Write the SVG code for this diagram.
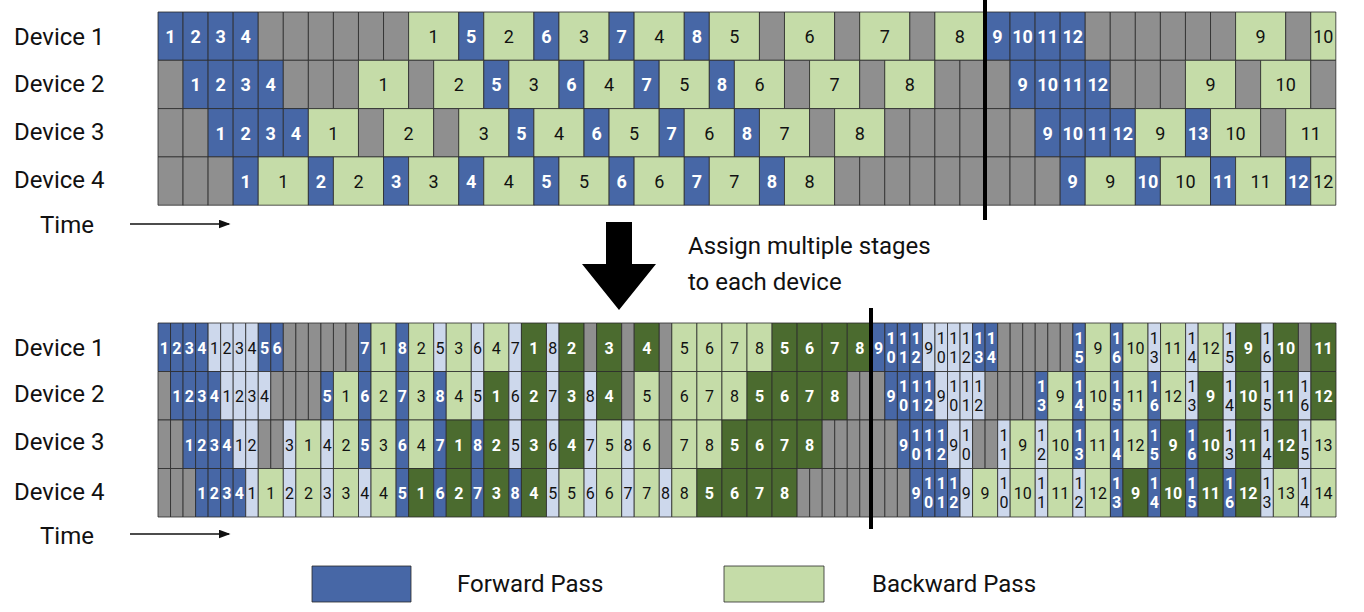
<svg xmlns="http://www.w3.org/2000/svg" width="1364" height="612" viewBox="0 0 1364 612">
<style>
text{font-family:Roboto,"Liberation Sans",sans-serif;text-anchor:middle}
.c rect{stroke:#2a2a2a;stroke-width:0.8;vector-effect:non-scaling-stroke}
.f{fill:#4767a6}.l{fill:#cdd8ec}.b{fill:#c5dca8}.d{fill:#4b6b2f}.g{fill:#8f8f8f}
.top rect{height:48.3px}.bot rect{height:48.5px}
.top text{font-size:18px}.bot text{font-size:16px}
.w{fill:#fff;font-weight:bold}.k{fill:#111}
.lab{font-size:24px;text-anchor:start;fill:#111}
</style>
<defs><marker id="ah" markerWidth="8" markerHeight="6" refX="7" refY="3" orient="auto"><path d="M0,0L8,3L0,6z" fill="#111"/></marker></defs>
<g id="labels">
<text class="lab" x="14" y="45">Device 1</text><text class="lab" x="14" y="92">Device 2</text><text class="lab" x="14" y="140">Device 3</text><text class="lab" x="14" y="188">Device 4</text>
<text class="lab" x="40" y="233">Time</text>
<text class="lab" x="14" y="356">Device 1</text><text class="lab" x="14" y="402">Device 2</text><text class="lab" x="14" y="450">Device 3</text><text class="lab" x="14" y="500">Device 4</text>
<text class="lab" x="40" y="544">Time</text>
<text class="lab" x="688" y="254">Assign multiple stages</text><text class="lab" x="688" y="290">to each device</text>
<text class="lab" x="457" y="592">Forward Pass</text><text class="lab" x="872" y="592">Backward Pass</text>
</g>
<g id="connectors" stroke="#111" fill="none">
<line x1="130" y1="224" x2="229" y2="224" stroke-width="1.5" marker-end="url(#ah)"/>
<line x1="130" y1="534" x2="229" y2="534" stroke-width="1.5" marker-end="url(#ah)"/>
<path d="M606,222H632V264H656L619,310L582,264H606Z" fill="#000" stroke="none"/>
</g>
<g id="legend" class="c">
<rect class="f" x="312" y="566" width="99" height="36"/><rect class="b" x="724" y="566" width="100" height="36"/>
</g>
<g id="top" class="top c" transform="translate(158 0) scale(25.06 1)">
<g transform="translate(0 12)">
<rect class="f" x="0" width="1"/><rect class="f" x="1" width="1"/><rect class="f" x="2" width="1"/><rect class="f" x="3" width="1"/>
<rect class="g" x="4" width="1"/><rect class="g" x="5" width="1"/><rect class="g" x="6" width="1"/><rect class="g" x="7" width="1"/><rect class="g" x="8" width="1"/><rect class="g" x="9" width="1"/>
<rect class="b" x="10" width="2"/><rect class="f" x="12" width="1"/><rect class="b" x="13" width="2"/><rect class="f" x="15" width="1"/><rect class="b" x="16" width="2"/><rect class="f" x="18" width="1"/><rect class="b" x="19" width="2"/><rect class="f" x="21" width="1"/><rect class="b" x="22" width="2"/><rect class="g" x="24" width="1"/><rect class="b" x="25" width="2"/><rect class="g" x="27" width="1"/><rect class="b" x="28" width="2"/><rect class="g" x="30" width="1"/><rect class="b" x="31" width="2"/>
<rect class="f" x="33" width="1"/><rect class="f" x="34" width="1"/><rect class="f" x="35" width="1"/><rect class="f" x="36" width="1"/>
<rect class="g" x="37" width="1"/><rect class="g" x="38" width="1"/><rect class="g" x="39" width="1"/><rect class="g" x="40" width="1"/><rect class="g" x="41" width="1"/><rect class="g" x="42" width="1"/>
<rect class="b" x="43" width="2"/><rect class="g" x="45" width="1"/><rect class="b" x="46" width="1"/>
<text class="w" transform="translate(.5 31)scale(.0399 1)">1</text><text class="w" transform="translate(1.5 31)scale(.0399 1)">2</text><text class="w" transform="translate(2.5 31)scale(.0399 1)">3</text><text class="w" transform="translate(3.5 31)scale(.0399 1)">4</text>
<text class="k" transform="translate(11 31)scale(.0399 1)">1</text><text class="w" transform="translate(12.5 31)scale(.0399 1)">5</text><text class="k" transform="translate(14 31)scale(.0399 1)">2</text><text class="w" transform="translate(15.5 31)scale(.0399 1)">6</text><text class="k" transform="translate(17 31)scale(.0399 1)">3</text><text class="w" transform="translate(18.5 31)scale(.0399 1)">7</text><text class="k" transform="translate(20 31)scale(.0399 1)">4</text><text class="w" transform="translate(21.5 31)scale(.0399 1)">8</text><text class="k" transform="translate(23 31)scale(.0399 1)">5</text><text class="k" transform="translate(26 31)scale(.0399 1)">6</text><text class="k" transform="translate(29 31)scale(.0399 1)">7</text><text class="k" transform="translate(32 31)scale(.0399 1)">8</text>
<text class="w" transform="translate(33.5 31)scale(.0399 1)">9</text><text class="w" transform="translate(34.5 31)scale(.0399 1)">10</text><text class="w" transform="translate(35.5 31)scale(.0399 1)">11</text><text class="w" transform="translate(36.5 31)scale(.0399 1)">12</text>
<text class="k" transform="translate(44 31)scale(.0399 1)">9</text><text class="k" transform="translate(46.5 31)scale(.0399 1)">10</text>
</g>
<g transform="translate(0 60.3)">
<rect class="g" x="0" width="1"/><rect class="f" x="1" width="1"/><rect class="f" x="2" width="1"/><rect class="f" x="3" width="1"/><rect class="f" x="4" width="1"/>
<rect class="g" x="5" width="1"/><rect class="g" x="6" width="1"/><rect class="g" x="7" width="1"/>
<rect class="b" x="8" width="2"/><rect class="g" x="10" width="1"/><rect class="b" x="11" width="2"/><rect class="f" x="13" width="1"/><rect class="b" x="14" width="2"/><rect class="f" x="16" width="1"/><rect class="b" x="17" width="2"/><rect class="f" x="19" width="1"/><rect class="b" x="20" width="2"/><rect class="f" x="22" width="1"/><rect class="b" x="23" width="2"/><rect class="g" x="25" width="1"/><rect class="b" x="26" width="2"/><rect class="g" x="28" width="1"/><rect class="b" x="29" width="2"/>
<rect class="g" x="31" width="1"/><rect class="g" x="32" width="1"/><rect class="g" x="33" width="1"/>
<rect class="f" x="34" width="1"/><rect class="f" x="35" width="1"/><rect class="f" x="36" width="1"/><rect class="f" x="37" width="1"/>
<rect class="g" x="38" width="1"/><rect class="g" x="39" width="1"/><rect class="g" x="40" width="1"/>
<rect class="b" x="41" width="2"/><rect class="g" x="43" width="1"/><rect class="b" x="44" width="2"/><rect class="g" x="46" width="1"/>
<text class="w" transform="translate(1.5 31)scale(.0399 1)">1</text><text class="w" transform="translate(2.5 31)scale(.0399 1)">2</text><text class="w" transform="translate(3.5 31)scale(.0399 1)">3</text><text class="w" transform="translate(4.5 31)scale(.0399 1)">4</text>
<text class="k" transform="translate(9 31)scale(.0399 1)">1</text><text class="k" transform="translate(12 31)scale(.0399 1)">2</text><text class="w" transform="translate(13.5 31)scale(.0399 1)">5</text><text class="k" transform="translate(15 31)scale(.0399 1)">3</text><text class="w" transform="translate(16.5 31)scale(.0399 1)">6</text><text class="k" transform="translate(18 31)scale(.0399 1)">4</text><text class="w" transform="translate(19.5 31)scale(.0399 1)">7</text><text class="k" transform="translate(21 31)scale(.0399 1)">5</text><text class="w" transform="translate(22.5 31)scale(.0399 1)">8</text><text class="k" transform="translate(24 31)scale(.0399 1)">6</text><text class="k" transform="translate(27 31)scale(.0399 1)">7</text><text class="k" transform="translate(30 31)scale(.0399 1)">8</text>
<text class="w" transform="translate(34.5 31)scale(.0399 1)">9</text><text class="w" transform="translate(35.5 31)scale(.0399 1)">10</text><text class="w" transform="translate(36.5 31)scale(.0399 1)">11</text><text class="w" transform="translate(37.5 31)scale(.0399 1)">12</text>
<text class="k" transform="translate(42 31)scale(.0399 1)">9</text><text class="k" transform="translate(45 31)scale(.0399 1)">10</text>
</g>
<g transform="translate(0 108.6)">
<rect class="g" x="0" width="1"/><rect class="g" x="1" width="1"/><rect class="f" x="2" width="1"/><rect class="f" x="3" width="1"/><rect class="f" x="4" width="1"/><rect class="f" x="5" width="1"/>
<rect class="b" x="6" width="2"/><rect class="g" x="8" width="1"/><rect class="b" x="9" width="2"/><rect class="g" x="11" width="1"/><rect class="b" x="12" width="2"/><rect class="f" x="14" width="1"/><rect class="b" x="15" width="2"/><rect class="f" x="17" width="1"/><rect class="b" x="18" width="2"/><rect class="f" x="20" width="1"/><rect class="b" x="21" width="2"/><rect class="f" x="23" width="1"/><rect class="b" x="24" width="2"/><rect class="g" x="26" width="1"/><rect class="b" x="27" width="2"/>
<rect class="g" x="29" width="1"/><rect class="g" x="30" width="1"/><rect class="g" x="31" width="1"/><rect class="g" x="32" width="1"/><rect class="g" x="33" width="1"/><rect class="g" x="34" width="1"/>
<rect class="f" x="35" width="1"/><rect class="f" x="36" width="1"/><rect class="f" x="37" width="1"/><rect class="f" x="38" width="1"/>
<rect class="b" x="39" width="2"/><rect class="f" x="41" width="1"/><rect class="b" x="42" width="2"/><rect class="g" x="44" width="1"/><rect class="b" x="45" width="2"/>
<text class="w" transform="translate(2.5 31)scale(.0399 1)">1</text><text class="w" transform="translate(3.5 31)scale(.0399 1)">2</text><text class="w" transform="translate(4.5 31)scale(.0399 1)">3</text><text class="w" transform="translate(5.5 31)scale(.0399 1)">4</text>
<text class="k" transform="translate(7 31)scale(.0399 1)">1</text><text class="k" transform="translate(10 31)scale(.0399 1)">2</text><text class="k" transform="translate(13 31)scale(.0399 1)">3</text><text class="w" transform="translate(14.5 31)scale(.0399 1)">5</text><text class="k" transform="translate(16 31)scale(.0399 1)">4</text><text class="w" transform="translate(17.5 31)scale(.0399 1)">6</text><text class="k" transform="translate(19 31)scale(.0399 1)">5</text><text class="w" transform="translate(20.5 31)scale(.0399 1)">7</text><text class="k" transform="translate(22 31)scale(.0399 1)">6</text><text class="w" transform="translate(23.5 31)scale(.0399 1)">8</text><text class="k" transform="translate(25 31)scale(.0399 1)">7</text><text class="k" transform="translate(28 31)scale(.0399 1)">8</text>
<text class="w" transform="translate(35.5 31)scale(.0399 1)">9</text><text class="w" transform="translate(36.5 31)scale(.0399 1)">10</text><text class="w" transform="translate(37.5 31)scale(.0399 1)">11</text><text class="w" transform="translate(38.5 31)scale(.0399 1)">12</text>
<text class="k" transform="translate(40 31)scale(.0399 1)">9</text><text class="w" transform="translate(41.5 31)scale(.0399 1)">13</text><text class="k" transform="translate(43 31)scale(.0399 1)">10</text><text class="k" transform="translate(46 31)scale(.0399 1)">11</text>
</g>
<g transform="translate(0 156.9)">
<rect class="g" x="0" width="1"/><rect class="g" x="1" width="1"/><rect class="g" x="2" width="1"/>
<rect class="f" x="3" width="1"/><rect class="b" x="4" width="2"/><rect class="f" x="6" width="1"/><rect class="b" x="7" width="2"/><rect class="f" x="9" width="1"/><rect class="b" x="10" width="2"/><rect class="f" x="12" width="1"/><rect class="b" x="13" width="2"/><rect class="f" x="15" width="1"/><rect class="b" x="16" width="2"/><rect class="f" x="18" width="1"/><rect class="b" x="19" width="2"/><rect class="f" x="21" width="1"/><rect class="b" x="22" width="2"/><rect class="f" x="24" width="1"/><rect class="b" x="25" width="2"/>
<rect class="g" x="27" width="1"/><rect class="g" x="28" width="1"/><rect class="g" x="29" width="1"/><rect class="g" x="30" width="1"/><rect class="g" x="31" width="1"/><rect class="g" x="32" width="1"/><rect class="g" x="33" width="1"/><rect class="g" x="34" width="1"/><rect class="g" x="35" width="1"/>
<rect class="f" x="36" width="1"/><rect class="b" x="37" width="2"/><rect class="f" x="39" width="1"/><rect class="b" x="40" width="2"/><rect class="f" x="42" width="1"/><rect class="b" x="43" width="2"/><rect class="f" x="45" width="1"/><rect class="b" x="46" width="1"/>
<text class="w" transform="translate(3.5 31)scale(.0399 1)">1</text><text class="k" transform="translate(5 31)scale(.0399 1)">1</text><text class="w" transform="translate(6.5 31)scale(.0399 1)">2</text><text class="k" transform="translate(8 31)scale(.0399 1)">2</text><text class="w" transform="translate(9.5 31)scale(.0399 1)">3</text><text class="k" transform="translate(11 31)scale(.0399 1)">3</text><text class="w" transform="translate(12.5 31)scale(.0399 1)">4</text><text class="k" transform="translate(14 31)scale(.0399 1)">4</text><text class="w" transform="translate(15.5 31)scale(.0399 1)">5</text><text class="k" transform="translate(17 31)scale(.0399 1)">5</text><text class="w" transform="translate(18.5 31)scale(.0399 1)">6</text><text class="k" transform="translate(20 31)scale(.0399 1)">6</text><text class="w" transform="translate(21.5 31)scale(.0399 1)">7</text><text class="k" transform="translate(23 31)scale(.0399 1)">7</text><text class="w" transform="translate(24.5 31)scale(.0399 1)">8</text><text class="k" transform="translate(26 31)scale(.0399 1)">8</text>
<text class="w" transform="translate(36.5 31)scale(.0399 1)">9</text><text class="k" transform="translate(38 31)scale(.0399 1)">9</text><text class="w" transform="translate(39.5 31)scale(.0399 1)">10</text><text class="k" transform="translate(41 31)scale(.0399 1)">10</text><text class="w" transform="translate(42.5 31)scale(.0399 1)">11</text><text class="k" transform="translate(44 31)scale(.0399 1)">11</text><text class="w" transform="translate(45.5 31)scale(.0399 1)">12</text><text class="k" transform="translate(46.5 31)scale(.0399 1)">12</text>
</g>
</g>
<g id="bottom" class="bot c" transform="translate(158 0) scale(12.532 1)">
<g transform="translate(0 323)">
<rect class="f" x="0" width="1"/><rect class="f" x="1" width="1"/><rect class="f" x="2" width="1"/><rect class="f" x="3" width="1"/><rect class="l" x="4" width="1"/><rect class="l" x="5" width="1"/><rect class="l" x="6" width="1"/><rect class="l" x="7" width="1"/><rect class="f" x="8" width="1"/><rect class="f" x="9" width="1"/>
<rect class="g" x="10" width="1"/><rect class="g" x="11" width="1"/><rect class="g" x="12" width="1"/><rect class="g" x="13" width="1"/><rect class="g" x="14" width="1"/><rect class="g" x="15" width="1"/>
<rect class="f" x="16" width="1"/><rect class="b" x="17" width="2"/><rect class="f" x="19" width="1"/><rect class="b" x="20" width="2"/><rect class="l" x="22" width="1"/><rect class="b" x="23" width="2"/><rect class="l" x="25" width="1"/><rect class="b" x="26" width="2"/><rect class="l" x="28" width="1"/><rect class="d" x="29" width="2"/><rect class="l" x="31" width="1"/><rect class="d" x="32" width="2"/><rect class="g" x="34" width="1"/><rect class="d" x="35" width="2"/><rect class="g" x="37" width="1"/><rect class="d" x="38" width="2"/><rect class="g" x="40" width="1"/>
<rect class="b" x="41" width="2"/><rect class="b" x="43" width="2"/><rect class="b" x="45" width="2"/><rect class="b" x="47" width="2"/><rect class="d" x="49" width="2"/><rect class="d" x="51" width="2"/><rect class="d" x="53" width="2"/><rect class="d" x="55" width="2"/>
<rect class="f" x="57" width="1"/><rect class="f" x="58" width="1"/><rect class="f" x="59" width="1"/><rect class="f" x="60" width="1"/><rect class="l" x="61" width="1"/><rect class="l" x="62" width="1"/><rect class="l" x="63" width="1"/><rect class="l" x="64" width="1"/><rect class="f" x="65" width="1"/><rect class="f" x="66" width="1"/>
<rect class="g" x="67" width="1"/><rect class="g" x="68" width="1"/><rect class="g" x="69" width="1"/><rect class="g" x="70" width="1"/><rect class="g" x="71" width="1"/><rect class="g" x="72" width="1"/>
<rect class="f" x="73" width="1"/><rect class="b" x="74" width="2"/><rect class="f" x="76" width="1"/><rect class="b" x="77" width="2"/><rect class="l" x="79" width="1"/><rect class="b" x="80" width="2"/><rect class="l" x="82" width="1"/><rect class="b" x="83" width="2"/><rect class="l" x="85" width="1"/><rect class="d" x="86" width="2"/><rect class="l" x="88" width="1"/><rect class="d" x="89" width="2"/><rect class="g" x="91" width="1"/><rect class="d" x="92" width="2"/>
<text class="w" transform="translate(.5 0)scale(.0798 1)" y="31">1</text><text class="w" transform="translate(1.5 0)scale(.0798 1)" y="31">2</text><text class="w" transform="translate(2.5 0)scale(.0798 1)" y="31">3</text><text class="w" transform="translate(3.5 0)scale(.0798 1)" y="31">4</text><text class="k" transform="translate(4.5 0)scale(.0798 1)" y="31">1</text><text class="k" transform="translate(5.5 0)scale(.0798 1)" y="31">2</text><text class="k" transform="translate(6.5 0)scale(.0798 1)" y="31">3</text><text class="k" transform="translate(7.5 0)scale(.0798 1)" y="31">4</text><text class="w" transform="translate(8.5 0)scale(.0798 1)" y="31">5</text><text class="w" transform="translate(9.5 0)scale(.0798 1)" y="31">6</text>
<text class="w" transform="translate(16.5 0)scale(.0798 1)" y="31">7</text><text class="k" transform="translate(18 0)scale(.0798 1)" y="31">1</text><text class="w" transform="translate(19.5 0)scale(.0798 1)" y="31">8</text><text class="k" transform="translate(21 0)scale(.0798 1)" y="31">2</text><text class="k" transform="translate(22.5 0)scale(.0798 1)" y="31">5</text><text class="k" transform="translate(24 0)scale(.0798 1)" y="31">3</text><text class="k" transform="translate(25.5 0)scale(.0798 1)" y="31">6</text><text class="k" transform="translate(27 0)scale(.0798 1)" y="31">4</text><text class="k" transform="translate(28.5 0)scale(.0798 1)" y="31">7</text><text class="w" transform="translate(30 0)scale(.0798 1)" y="31">1</text><text class="k" transform="translate(31.5 0)scale(.0798 1)" y="31">8</text><text class="w" transform="translate(33 0)scale(.0798 1)" y="31">2</text><text class="w" transform="translate(36 0)scale(.0798 1)" y="31">3</text><text class="w" transform="translate(39 0)scale(.0798 1)" y="31">4</text>
<text class="k" transform="translate(42 0)scale(.0798 1)" y="31">5</text><text class="k" transform="translate(44 0)scale(.0798 1)" y="31">6</text><text class="k" transform="translate(46 0)scale(.0798 1)" y="31">7</text><text class="k" transform="translate(48 0)scale(.0798 1)" y="31">8</text><text class="w" transform="translate(50 0)scale(.0798 1)" y="31">5</text><text class="w" transform="translate(52 0)scale(.0798 1)" y="31">6</text><text class="w" transform="translate(54 0)scale(.0798 1)" y="31">7</text><text class="w" transform="translate(56 0)scale(.0798 1)" y="31">8</text>
<text class="w" transform="translate(57.5 0)scale(.0798 1)" y="31">9</text><text class="w" transform="translate(58.5 0)scale(.0798 1)"><tspan x="0" y="21">1</tspan><tspan x="0" y="40">0</tspan></text><text class="w" transform="translate(59.5 0)scale(.0798 1)"><tspan x="0" y="21">1</tspan><tspan x="0" y="40">1</tspan></text><text class="w" transform="translate(60.5 0)scale(.0798 1)"><tspan x="0" y="21">1</tspan><tspan x="0" y="40">2</tspan></text>
<text class="k" transform="translate(61.5 0)scale(.0798 1)" y="31">9</text><text class="k" transform="translate(62.5 0)scale(.0798 1)"><tspan x="0" y="21">1</tspan><tspan x="0" y="40">0</tspan></text><text class="k" transform="translate(63.5 0)scale(.0798 1)"><tspan x="0" y="21">1</tspan><tspan x="0" y="40">1</tspan></text><text class="k" transform="translate(64.5 0)scale(.0798 1)"><tspan x="0" y="21">1</tspan><tspan x="0" y="40">2</tspan></text><text class="w" transform="translate(65.5 0)scale(.0798 1)"><tspan x="0" y="21">1</tspan><tspan x="0" y="40">3</tspan></text><text class="w" transform="translate(66.5 0)scale(.0798 1)"><tspan x="0" y="21">1</tspan><tspan x="0" y="40">4</tspan></text>
<text class="w" transform="translate(73.5 0)scale(.0798 1)"><tspan x="0" y="21">1</tspan><tspan x="0" y="40">5</tspan></text><text class="k" transform="translate(75 0)scale(.0798 1)" y="31">9</text><text class="w" transform="translate(76.5 0)scale(.0798 1)"><tspan x="0" y="21">1</tspan><tspan x="0" y="40">6</tspan></text><text class="k" transform="translate(78 0)scale(.0798 1)" y="31">10</text><text class="k" transform="translate(79.5 0)scale(.0798 1)"><tspan x="0" y="21">1</tspan><tspan x="0" y="40">3</tspan></text><text class="k" transform="translate(81 0)scale(.0798 1)" y="31">11</text><text class="k" transform="translate(82.5 0)scale(.0798 1)"><tspan x="0" y="21">1</tspan><tspan x="0" y="40">4</tspan></text><text class="k" transform="translate(84 0)scale(.0798 1)" y="31">12</text><text class="k" transform="translate(85.5 0)scale(.0798 1)"><tspan x="0" y="21">1</tspan><tspan x="0" y="40">5</tspan></text><text class="w" transform="translate(87 0)scale(.0798 1)" y="31">9</text><text class="k" transform="translate(88.5 0)scale(.0798 1)"><tspan x="0" y="21">1</tspan><tspan x="0" y="40">6</tspan></text><text class="w" transform="translate(90 0)scale(.0798 1)" y="31">10</text><text class="w" transform="translate(93 0)scale(.0798 1)" y="31">11</text>
</g>
<g transform="translate(0 371.5)">
<rect class="g" x="0" width="1"/><rect class="f" x="1" width="1"/><rect class="f" x="2" width="1"/><rect class="f" x="3" width="1"/><rect class="f" x="4" width="1"/><rect class="l" x="5" width="1"/><rect class="l" x="6" width="1"/><rect class="l" x="7" width="1"/><rect class="l" x="8" width="1"/>
<rect class="g" x="9" width="1"/><rect class="g" x="10" width="1"/><rect class="g" x="11" width="1"/><rect class="g" x="12" width="1"/>
<rect class="f" x="13" width="1"/><rect class="b" x="14" width="2"/><rect class="f" x="16" width="1"/><rect class="b" x="17" width="2"/><rect class="f" x="19" width="1"/><rect class="b" x="20" width="2"/><rect class="f" x="22" width="1"/><rect class="b" x="23" width="2"/><rect class="l" x="25" width="1"/><rect class="d" x="26" width="2"/><rect class="l" x="28" width="1"/><rect class="d" x="29" width="2"/><rect class="l" x="31" width="1"/><rect class="d" x="32" width="2"/><rect class="l" x="34" width="1"/><rect class="d" x="35" width="2"/><rect class="g" x="37" width="1"/><rect class="b" x="38" width="2"/><rect class="g" x="40" width="1"/>
<rect class="b" x="41" width="2"/><rect class="b" x="43" width="2"/><rect class="b" x="45" width="2"/><rect class="d" x="47" width="2"/><rect class="d" x="49" width="2"/><rect class="d" x="51" width="2"/><rect class="d" x="53" width="2"/><rect class="g" x="55" width="1"/><rect class="g" x="56" width="1"/><rect class="g" x="57" width="1"/>
<rect class="f" x="58" width="1"/><rect class="f" x="59" width="1"/><rect class="f" x="60" width="1"/><rect class="f" x="61" width="1"/><rect class="l" x="62" width="1"/><rect class="l" x="63" width="1"/><rect class="l" x="64" width="1"/><rect class="l" x="65" width="1"/>
<rect class="g" x="66" width="1"/><rect class="g" x="67" width="1"/><rect class="g" x="68" width="1"/><rect class="g" x="69" width="1"/>
<rect class="f" x="70" width="1"/><rect class="b" x="71" width="2"/><rect class="f" x="73" width="1"/><rect class="b" x="74" width="2"/><rect class="f" x="76" width="1"/><rect class="b" x="77" width="2"/><rect class="f" x="79" width="1"/><rect class="b" x="80" width="2"/><rect class="l" x="82" width="1"/><rect class="d" x="83" width="2"/><rect class="l" x="85" width="1"/><rect class="d" x="86" width="2"/><rect class="l" x="88" width="1"/><rect class="d" x="89" width="2"/><rect class="l" x="91" width="1"/><rect class="d" x="92" width="2"/>
<text class="w" transform="translate(1.5 0)scale(.0798 1)" y="31">1</text><text class="w" transform="translate(2.5 0)scale(.0798 1)" y="31">2</text><text class="w" transform="translate(3.5 0)scale(.0798 1)" y="31">3</text><text class="w" transform="translate(4.5 0)scale(.0798 1)" y="31">4</text><text class="k" transform="translate(5.5 0)scale(.0798 1)" y="31">1</text><text class="k" transform="translate(6.5 0)scale(.0798 1)" y="31">2</text><text class="k" transform="translate(7.5 0)scale(.0798 1)" y="31">3</text><text class="k" transform="translate(8.5 0)scale(.0798 1)" y="31">4</text>
<text class="w" transform="translate(13.5 0)scale(.0798 1)" y="31">5</text><text class="k" transform="translate(15 0)scale(.0798 1)" y="31">1</text><text class="w" transform="translate(16.5 0)scale(.0798 1)" y="31">6</text><text class="k" transform="translate(18 0)scale(.0798 1)" y="31">2</text><text class="w" transform="translate(19.5 0)scale(.0798 1)" y="31">7</text><text class="k" transform="translate(21 0)scale(.0798 1)" y="31">3</text><text class="w" transform="translate(22.5 0)scale(.0798 1)" y="31">8</text><text class="k" transform="translate(24 0)scale(.0798 1)" y="31">4</text><text class="k" transform="translate(25.5 0)scale(.0798 1)" y="31">5</text><text class="w" transform="translate(27 0)scale(.0798 1)" y="31">1</text><text class="k" transform="translate(28.5 0)scale(.0798 1)" y="31">6</text><text class="w" transform="translate(30 0)scale(.0798 1)" y="31">2</text><text class="k" transform="translate(31.5 0)scale(.0798 1)" y="31">7</text><text class="w" transform="translate(33 0)scale(.0798 1)" y="31">3</text><text class="k" transform="translate(34.5 0)scale(.0798 1)" y="31">8</text><text class="w" transform="translate(36 0)scale(.0798 1)" y="31">4</text>
<text class="k" transform="translate(39 0)scale(.0798 1)" y="31">5</text><text class="k" transform="translate(42 0)scale(.0798 1)" y="31">6</text><text class="k" transform="translate(44 0)scale(.0798 1)" y="31">7</text><text class="k" transform="translate(46 0)scale(.0798 1)" y="31">8</text><text class="w" transform="translate(48 0)scale(.0798 1)" y="31">5</text><text class="w" transform="translate(50 0)scale(.0798 1)" y="31">6</text><text class="w" transform="translate(52 0)scale(.0798 1)" y="31">7</text><text class="w" transform="translate(54 0)scale(.0798 1)" y="31">8</text>
<text class="w" transform="translate(58.5 0)scale(.0798 1)" y="31">9</text><text class="w" transform="translate(59.5 0)scale(.0798 1)"><tspan x="0" y="21">1</tspan><tspan x="0" y="40">0</tspan></text><text class="w" transform="translate(60.5 0)scale(.0798 1)"><tspan x="0" y="21">1</tspan><tspan x="0" y="40">1</tspan></text><text class="w" transform="translate(61.5 0)scale(.0798 1)"><tspan x="0" y="21">1</tspan><tspan x="0" y="40">2</tspan></text>
<text class="k" transform="translate(62.5 0)scale(.0798 1)" y="31">9</text><text class="k" transform="translate(63.5 0)scale(.0798 1)"><tspan x="0" y="21">1</tspan><tspan x="0" y="40">0</tspan></text><text class="k" transform="translate(64.5 0)scale(.0798 1)"><tspan x="0" y="21">1</tspan><tspan x="0" y="40">1</tspan></text><text class="k" transform="translate(65.5 0)scale(.0798 1)"><tspan x="0" y="21">1</tspan><tspan x="0" y="40">2</tspan></text>
<text class="w" transform="translate(70.5 0)scale(.0798 1)"><tspan x="0" y="21">1</tspan><tspan x="0" y="40">3</tspan></text><text class="k" transform="translate(72 0)scale(.0798 1)" y="31">9</text><text class="w" transform="translate(73.5 0)scale(.0798 1)"><tspan x="0" y="21">1</tspan><tspan x="0" y="40">4</tspan></text><text class="k" transform="translate(75 0)scale(.0798 1)" y="31">10</text><text class="w" transform="translate(76.5 0)scale(.0798 1)"><tspan x="0" y="21">1</tspan><tspan x="0" y="40">5</tspan></text><text class="k" transform="translate(78 0)scale(.0798 1)" y="31">11</text><text class="w" transform="translate(79.5 0)scale(.0798 1)"><tspan x="0" y="21">1</tspan><tspan x="0" y="40">6</tspan></text><text class="k" transform="translate(81 0)scale(.0798 1)" y="31">12</text>
<text class="k" transform="translate(82.5 0)scale(.0798 1)"><tspan x="0" y="21">1</tspan><tspan x="0" y="40">3</tspan></text><text class="w" transform="translate(84 0)scale(.0798 1)" y="31">9</text><text class="k" transform="translate(85.5 0)scale(.0798 1)"><tspan x="0" y="21">1</tspan><tspan x="0" y="40">4</tspan></text><text class="w" transform="translate(87 0)scale(.0798 1)" y="31">10</text><text class="k" transform="translate(88.5 0)scale(.0798 1)"><tspan x="0" y="21">1</tspan><tspan x="0" y="40">5</tspan></text><text class="w" transform="translate(90 0)scale(.0798 1)" y="31">11</text><text class="k" transform="translate(91.5 0)scale(.0798 1)"><tspan x="0" y="21">1</tspan><tspan x="0" y="40">6</tspan></text><text class="w" transform="translate(93 0)scale(.0798 1)" y="31">12</text>
</g>
<g transform="translate(0 420)">
<rect class="g" x="0" width="1"/><rect class="g" x="1" width="1"/><rect class="f" x="2" width="1"/><rect class="f" x="3" width="1"/><rect class="f" x="4" width="1"/><rect class="f" x="5" width="1"/><rect class="l" x="6" width="1"/><rect class="l" x="7" width="1"/><rect class="g" x="8" width="1"/><rect class="g" x="9" width="1"/>
<rect class="l" x="10" width="1"/><rect class="b" x="11" width="2"/><rect class="l" x="13" width="1"/><rect class="b" x="14" width="2"/><rect class="f" x="16" width="1"/><rect class="b" x="17" width="2"/><rect class="f" x="19" width="1"/><rect class="b" x="20" width="2"/><rect class="f" x="22" width="1"/><rect class="d" x="23" width="2"/><rect class="f" x="25" width="1"/><rect class="d" x="26" width="2"/><rect class="l" x="28" width="1"/><rect class="d" x="29" width="2"/><rect class="l" x="31" width="1"/><rect class="d" x="32" width="2"/><rect class="l" x="34" width="1"/><rect class="b" x="35" width="2"/><rect class="l" x="37" width="1"/><rect class="b" x="38" width="2"/><rect class="g" x="40" width="1"/>
<rect class="b" x="41" width="2"/><rect class="b" x="43" width="2"/><rect class="d" x="45" width="2"/><rect class="d" x="47" width="2"/><rect class="d" x="49" width="2"/><rect class="d" x="51" width="2"/>
<rect class="g" x="53" width="1"/><rect class="g" x="54" width="1"/><rect class="g" x="55" width="1"/><rect class="g" x="56" width="1"/><rect class="g" x="57" width="1"/><rect class="g" x="58" width="1"/>
<rect class="f" x="59" width="1"/><rect class="f" x="60" width="1"/><rect class="f" x="61" width="1"/><rect class="f" x="62" width="1"/><rect class="l" x="63" width="1"/><rect class="l" x="64" width="1"/><rect class="g" x="65" width="1"/><rect class="g" x="66" width="1"/>
<rect class="l" x="67" width="1"/><rect class="b" x="68" width="2"/><rect class="l" x="70" width="1"/><rect class="b" x="71" width="2"/><rect class="f" x="73" width="1"/><rect class="b" x="74" width="2"/><rect class="f" x="76" width="1"/><rect class="b" x="77" width="2"/><rect class="f" x="79" width="1"/><rect class="d" x="80" width="2"/><rect class="f" x="82" width="1"/><rect class="d" x="83" width="2"/><rect class="l" x="85" width="1"/><rect class="d" x="86" width="2"/><rect class="l" x="88" width="1"/><rect class="d" x="89" width="2"/><rect class="l" x="91" width="1"/><rect class="b" x="92" width="2"/>
<text class="w" transform="translate(2.5 0)scale(.0798 1)" y="31">1</text><text class="w" transform="translate(3.5 0)scale(.0798 1)" y="31">2</text><text class="w" transform="translate(4.5 0)scale(.0798 1)" y="31">3</text><text class="w" transform="translate(5.5 0)scale(.0798 1)" y="31">4</text><text class="k" transform="translate(6.5 0)scale(.0798 1)" y="31">1</text><text class="k" transform="translate(7.5 0)scale(.0798 1)" y="31">2</text>
<text class="k" transform="translate(10.5 0)scale(.0798 1)" y="31">3</text><text class="k" transform="translate(12 0)scale(.0798 1)" y="31">1</text><text class="k" transform="translate(13.5 0)scale(.0798 1)" y="31">4</text><text class="k" transform="translate(15 0)scale(.0798 1)" y="31">2</text><text class="w" transform="translate(16.5 0)scale(.0798 1)" y="31">5</text><text class="k" transform="translate(18 0)scale(.0798 1)" y="31">3</text><text class="w" transform="translate(19.5 0)scale(.0798 1)" y="31">6</text><text class="k" transform="translate(21 0)scale(.0798 1)" y="31">4</text><text class="w" transform="translate(22.5 0)scale(.0798 1)" y="31">7</text><text class="w" transform="translate(24 0)scale(.0798 1)" y="31">1</text><text class="w" transform="translate(25.5 0)scale(.0798 1)" y="31">8</text><text class="w" transform="translate(27 0)scale(.0798 1)" y="31">2</text>
<text class="k" transform="translate(28.5 0)scale(.0798 1)" y="31">5</text><text class="w" transform="translate(30 0)scale(.0798 1)" y="31">3</text><text class="k" transform="translate(31.5 0)scale(.0798 1)" y="31">6</text><text class="w" transform="translate(33 0)scale(.0798 1)" y="31">4</text><text class="k" transform="translate(34.5 0)scale(.0798 1)" y="31">7</text><text class="k" transform="translate(36 0)scale(.0798 1)" y="31">5</text><text class="k" transform="translate(37.5 0)scale(.0798 1)" y="31">8</text><text class="k" transform="translate(39 0)scale(.0798 1)" y="31">6</text>
<text class="k" transform="translate(42 0)scale(.0798 1)" y="31">7</text><text class="k" transform="translate(44 0)scale(.0798 1)" y="31">8</text><text class="w" transform="translate(46 0)scale(.0798 1)" y="31">5</text><text class="w" transform="translate(48 0)scale(.0798 1)" y="31">6</text><text class="w" transform="translate(50 0)scale(.0798 1)" y="31">7</text><text class="w" transform="translate(52 0)scale(.0798 1)" y="31">8</text>
<text class="w" transform="translate(59.5 0)scale(.0798 1)" y="31">9</text><text class="w" transform="translate(60.5 0)scale(.0798 1)"><tspan x="0" y="21">1</tspan><tspan x="0" y="40">0</tspan></text><text class="w" transform="translate(61.5 0)scale(.0798 1)"><tspan x="0" y="21">1</tspan><tspan x="0" y="40">1</tspan></text><text class="w" transform="translate(62.5 0)scale(.0798 1)"><tspan x="0" y="21">1</tspan><tspan x="0" y="40">2</tspan></text><text class="k" transform="translate(63.5 0)scale(.0798 1)" y="31">9</text><text class="k" transform="translate(64.5 0)scale(.0798 1)"><tspan x="0" y="21">1</tspan><tspan x="0" y="40">0</tspan></text>
<text class="k" transform="translate(67.5 0)scale(.0798 1)"><tspan x="0" y="21">1</tspan><tspan x="0" y="40">1</tspan></text><text class="k" transform="translate(69 0)scale(.0798 1)" y="31">9</text><text class="k" transform="translate(70.5 0)scale(.0798 1)"><tspan x="0" y="21">1</tspan><tspan x="0" y="40">2</tspan></text><text class="k" transform="translate(72 0)scale(.0798 1)" y="31">10</text><text class="w" transform="translate(73.5 0)scale(.0798 1)"><tspan x="0" y="21">1</tspan><tspan x="0" y="40">3</tspan></text><text class="k" transform="translate(75 0)scale(.0798 1)" y="31">11</text><text class="w" transform="translate(76.5 0)scale(.0798 1)"><tspan x="0" y="21">1</tspan><tspan x="0" y="40">4</tspan></text><text class="k" transform="translate(78 0)scale(.0798 1)" y="31">12</text>
<text class="w" transform="translate(79.5 0)scale(.0798 1)"><tspan x="0" y="21">1</tspan><tspan x="0" y="40">5</tspan></text><text class="w" transform="translate(81 0)scale(.0798 1)" y="31">9</text><text class="w" transform="translate(82.5 0)scale(.0798 1)"><tspan x="0" y="21">1</tspan><tspan x="0" y="40">6</tspan></text><text class="w" transform="translate(84 0)scale(.0798 1)" y="31">10</text><text class="k" transform="translate(85.5 0)scale(.0798 1)"><tspan x="0" y="21">1</tspan><tspan x="0" y="40">3</tspan></text><text class="w" transform="translate(87 0)scale(.0798 1)" y="31">11</text><text class="k" transform="translate(88.5 0)scale(.0798 1)"><tspan x="0" y="21">1</tspan><tspan x="0" y="40">4</tspan></text><text class="w" transform="translate(90 0)scale(.0798 1)" y="31">12</text><text class="k" transform="translate(91.5 0)scale(.0798 1)"><tspan x="0" y="21">1</tspan><tspan x="0" y="40">5</tspan></text><text class="k" transform="translate(93 0)scale(.0798 1)" y="31">13</text>
</g>
<g transform="translate(0 468.5)">
<rect class="g" x="0" width="1"/><rect class="g" x="1" width="1"/><rect class="g" x="2" width="1"/><rect class="f" x="3" width="1"/><rect class="f" x="4" width="1"/><rect class="f" x="5" width="1"/><rect class="f" x="6" width="1"/>
<rect class="l" x="7" width="1"/><rect class="b" x="8" width="2"/><rect class="l" x="10" width="1"/><rect class="b" x="11" width="2"/><rect class="l" x="13" width="1"/><rect class="b" x="14" width="2"/><rect class="l" x="16" width="1"/><rect class="b" x="17" width="2"/><rect class="f" x="19" width="1"/><rect class="d" x="20" width="2"/><rect class="f" x="22" width="1"/><rect class="d" x="23" width="2"/><rect class="f" x="25" width="1"/><rect class="d" x="26" width="2"/><rect class="f" x="28" width="1"/><rect class="d" x="29" width="2"/>
<rect class="l" x="31" width="1"/><rect class="b" x="32" width="2"/><rect class="l" x="34" width="1"/><rect class="b" x="35" width="2"/><rect class="l" x="37" width="1"/><rect class="b" x="38" width="2"/><rect class="l" x="40" width="1"/><rect class="b" x="41" width="2"/><rect class="d" x="43" width="2"/><rect class="d" x="45" width="2"/><rect class="d" x="47" width="2"/><rect class="d" x="49" width="2"/>
<rect class="g" x="51" width="1"/><rect class="g" x="52" width="1"/><rect class="g" x="53" width="1"/><rect class="g" x="54" width="1"/><rect class="g" x="55" width="1"/><rect class="g" x="56" width="1"/><rect class="g" x="57" width="1"/><rect class="g" x="58" width="1"/><rect class="g" x="59" width="1"/>
<rect class="f" x="60" width="1"/><rect class="f" x="61" width="1"/><rect class="f" x="62" width="1"/><rect class="f" x="63" width="1"/><rect class="l" x="64" width="1"/><rect class="b" x="65" width="2"/><rect class="l" x="67" width="1"/><rect class="b" x="68" width="2"/><rect class="l" x="70" width="1"/><rect class="b" x="71" width="2"/><rect class="l" x="73" width="1"/><rect class="b" x="74" width="2"/>
<rect class="f" x="76" width="1"/><rect class="d" x="77" width="2"/><rect class="f" x="79" width="1"/><rect class="d" x="80" width="2"/><rect class="f" x="82" width="1"/><rect class="d" x="83" width="2"/><rect class="f" x="85" width="1"/><rect class="d" x="86" width="2"/><rect class="l" x="88" width="1"/><rect class="b" x="89" width="2"/><rect class="l" x="91" width="1"/><rect class="b" x="92" width="2"/>
<text class="w" transform="translate(3.5 0)scale(.0798 1)" y="31">1</text><text class="w" transform="translate(4.5 0)scale(.0798 1)" y="31">2</text><text class="w" transform="translate(5.5 0)scale(.0798 1)" y="31">3</text><text class="w" transform="translate(6.5 0)scale(.0798 1)" y="31">4</text>
<text class="k" transform="translate(7.5 0)scale(.0798 1)" y="31">1</text><text class="k" transform="translate(9 0)scale(.0798 1)" y="31">1</text><text class="k" transform="translate(10.5 0)scale(.0798 1)" y="31">2</text><text class="k" transform="translate(12 0)scale(.0798 1)" y="31">2</text><text class="k" transform="translate(13.5 0)scale(.0798 1)" y="31">3</text><text class="k" transform="translate(15 0)scale(.0798 1)" y="31">3</text><text class="k" transform="translate(16.5 0)scale(.0798 1)" y="31">4</text><text class="k" transform="translate(18 0)scale(.0798 1)" y="31">4</text>
<text class="w" transform="translate(19.5 0)scale(.0798 1)" y="31">5</text><text class="w" transform="translate(21 0)scale(.0798 1)" y="31">1</text><text class="w" transform="translate(22.5 0)scale(.0798 1)" y="31">6</text><text class="w" transform="translate(24 0)scale(.0798 1)" y="31">2</text><text class="w" transform="translate(25.5 0)scale(.0798 1)" y="31">7</text><text class="w" transform="translate(27 0)scale(.0798 1)" y="31">3</text><text class="w" transform="translate(28.5 0)scale(.0798 1)" y="31">8</text><text class="w" transform="translate(30 0)scale(.0798 1)" y="31">4</text>
<text class="k" transform="translate(31.5 0)scale(.0798 1)" y="31">5</text><text class="k" transform="translate(33 0)scale(.0798 1)" y="31">5</text><text class="k" transform="translate(34.5 0)scale(.0798 1)" y="31">6</text><text class="k" transform="translate(36 0)scale(.0798 1)" y="31">6</text><text class="k" transform="translate(37.5 0)scale(.0798 1)" y="31">7</text><text class="k" transform="translate(39 0)scale(.0798 1)" y="31">7</text><text class="k" transform="translate(40.5 0)scale(.0798 1)" y="31">8</text><text class="k" transform="translate(42 0)scale(.0798 1)" y="31">8</text>
<text class="w" transform="translate(44 0)scale(.0798 1)" y="31">5</text><text class="w" transform="translate(46 0)scale(.0798 1)" y="31">6</text><text class="w" transform="translate(48 0)scale(.0798 1)" y="31">7</text><text class="w" transform="translate(50 0)scale(.0798 1)" y="31">8</text>
<text class="w" transform="translate(60.5 0)scale(.0798 1)" y="31">9</text><text class="w" transform="translate(61.5 0)scale(.0798 1)"><tspan x="0" y="21">1</tspan><tspan x="0" y="40">0</tspan></text><text class="w" transform="translate(62.5 0)scale(.0798 1)"><tspan x="0" y="21">1</tspan><tspan x="0" y="40">1</tspan></text><text class="w" transform="translate(63.5 0)scale(.0798 1)"><tspan x="0" y="21">1</tspan><tspan x="0" y="40">2</tspan></text>
<text class="k" transform="translate(64.5 0)scale(.0798 1)" y="31">9</text><text class="k" transform="translate(66 0)scale(.0798 1)" y="31">9</text><text class="k" transform="translate(67.5 0)scale(.0798 1)"><tspan x="0" y="21">1</tspan><tspan x="0" y="40">0</tspan></text><text class="k" transform="translate(69 0)scale(.0798 1)" y="31">10</text><text class="k" transform="translate(70.5 0)scale(.0798 1)"><tspan x="0" y="21">1</tspan><tspan x="0" y="40">1</tspan></text><text class="k" transform="translate(72 0)scale(.0798 1)" y="31">11</text><text class="k" transform="translate(73.5 0)scale(.0798 1)"><tspan x="0" y="21">1</tspan><tspan x="0" y="40">2</tspan></text><text class="k" transform="translate(75 0)scale(.0798 1)" y="31">12</text>
<text class="w" transform="translate(76.5 0)scale(.0798 1)"><tspan x="0" y="21">1</tspan><tspan x="0" y="40">3</tspan></text><text class="w" transform="translate(78 0)scale(.0798 1)" y="31">9</text><text class="w" transform="translate(79.5 0)scale(.0798 1)"><tspan x="0" y="21">1</tspan><tspan x="0" y="40">4</tspan></text><text class="w" transform="translate(81 0)scale(.0798 1)" y="31">10</text><text class="w" transform="translate(82.5 0)scale(.0798 1)"><tspan x="0" y="21">1</tspan><tspan x="0" y="40">5</tspan></text><text class="w" transform="translate(84 0)scale(.0798 1)" y="31">11</text><text class="w" transform="translate(85.5 0)scale(.0798 1)"><tspan x="0" y="21">1</tspan><tspan x="0" y="40">6</tspan></text><text class="w" transform="translate(87 0)scale(.0798 1)" y="31">12</text>
<text class="k" transform="translate(88.5 0)scale(.0798 1)"><tspan x="0" y="21">1</tspan><tspan x="0" y="40">3</tspan></text><text class="k" transform="translate(90 0)scale(.0798 1)" y="31">13</text><text class="k" transform="translate(91.5 0)scale(.0798 1)"><tspan x="0" y="21">1</tspan><tspan x="0" y="40">4</tspan></text><text class="k" transform="translate(93 0)scale(.0798 1)" y="31">14</text>
</g>
</g>
<g id="dividers" fill="#000">
<rect x="983" y="0" width="4" height="220"/>
<rect x="869" y="308" width="4" height="221"/>
</g>
</svg>
